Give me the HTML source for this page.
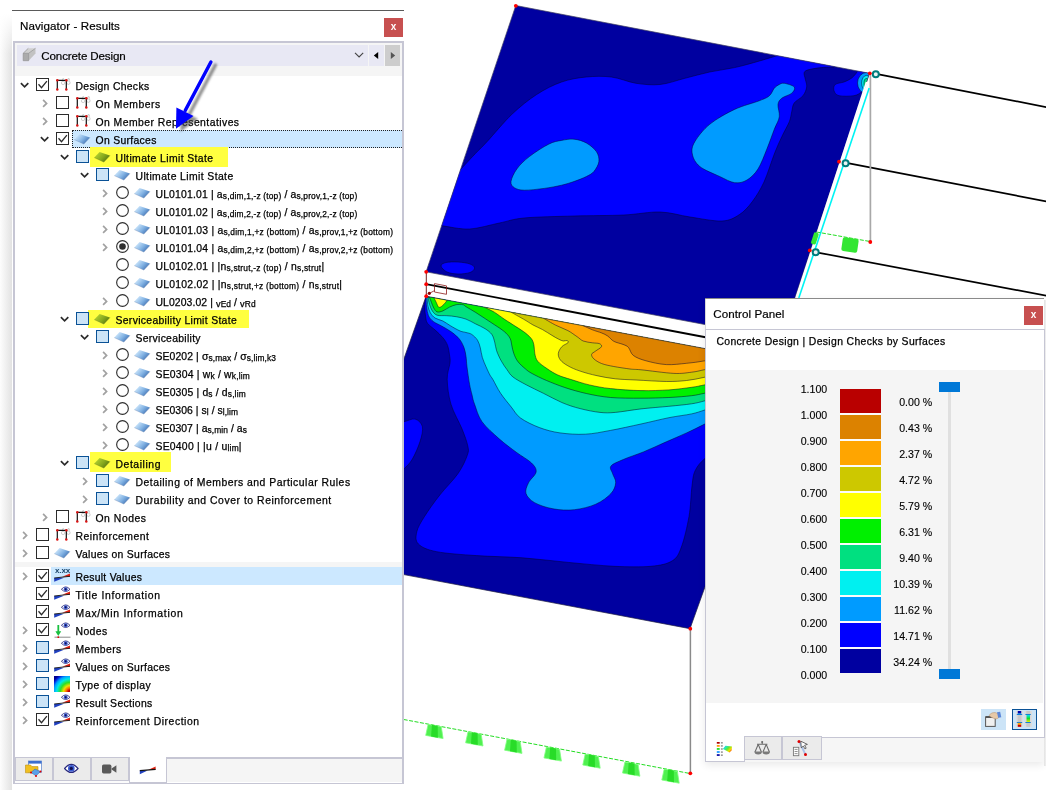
<!DOCTYPE html>
<html><head><meta charset="utf-8"><title>Navigator - Results</title><style>html,body{margin:0;padding:0}body{width:1046px;height:790px;position:relative;overflow:hidden;background:#fff;-webkit-font-smoothing:antialiased}
.tl{position:absolute;white-space:nowrap;font:10.4px/18px "Liberation Sans", Arial, sans-serif;color:#000;height:18px;-webkit-text-stroke:0.25px #000}
.tl .sb{font-size:8.4px;position:relative;top:1.2px}
.tl .sm{font-size:9.2px;position:relative;top:0.6px}
.xb{position:absolute;width:19px;height:19px;color:#fff;font:bold 10px/17.6px "Liberation Sans", Arial, sans-serif;text-align:center}
.xx{position:absolute;font:bold 8px/9px "Liberation Sans", Arial, sans-serif;color:#1c4468;letter-spacing:-0.1px}
.tt{position:absolute;white-space:nowrap;font:11.6px/16px "Liberation Sans", Arial, sans-serif;color:#000;-webkit-text-stroke:0.2px #000}

.lg{position:absolute;white-space:nowrap;font:10.6px/14px "Liberation Sans", Arial, sans-serif;color:#000;-webkit-text-stroke:0.12px #000}
</style></head><body>
<svg id="model" width="1046" height="790" viewBox="0 0 1046 790" style="position:absolute;left:0;top:0">
<defs>
<clipPath id="cu"><polygon points="515.8,5.5 869.5,73.3 781.3,339 426.1,271.8"/></clipPath>
<clipPath id="cl"><polygon points="426.1,296.2 720,351.4 720,545 690,628.7 380,570.1 380,426.4"/></clipPath>
</defs>
<polygon points="515.8,5.5 869.5,73.3 781.3,339 426.1,271.8" fill="#0000a0"/>
<g clip-path="url(#cu)" stroke="#000030" stroke-width="0.5">
<path d="M461.0,169.0 C463.2,166.7 469.7,159.6 474.0,155.0 C478.3,150.4 480.7,148.5 487.0,141.7 C493.3,134.9 503.6,122.2 511.9,114.3 C520.2,106.4 528.4,99.9 536.7,94.5 C545.0,89.1 553.3,84.9 561.6,82.0 C569.9,79.1 578.1,77.8 586.4,77.0 C594.7,76.2 603.0,76.0 611.3,77.0 C619.6,78.0 627.9,82.0 636.0,83.3 C644.1,84.5 651.9,85.3 660.0,84.5 C668.1,83.7 676.6,80.4 684.9,78.3 C693.2,76.2 701.4,73.8 709.7,72.0 C718.0,70.2 726.3,69.4 734.6,67.6 C742.9,65.8 752.0,63.1 759.4,61.0 C766.8,58.9 776.0,56.0 779.3,55.0 L790,50 L840,60 L834.0,67.0 C831.9,67.1 825.8,67.2 821.6,67.6 C817.5,68.0 812.0,68.8 809.1,69.6 C806.2,70.4 804.8,70.9 804.2,72.6 C803.6,74.2 805.0,77.1 805.4,79.5 C805.8,81.9 807.1,84.3 806.7,87.0 C806.3,89.7 805.1,93.0 803.0,95.7 C800.9,98.4 796.1,100.3 794.2,103.0 C792.3,105.7 792.5,108.8 791.7,111.9 C790.9,115.0 790.9,117.7 789.3,121.8 C787.6,125.9 784.3,131.3 781.8,136.7 C779.3,142.1 777.3,146.4 774.3,154.0 C771.3,161.6 767.7,174.0 764.0,182.0 C760.3,190.0 756.1,196.6 752.0,202.0 C747.9,207.4 744.4,211.4 739.4,214.6 C734.4,217.8 730.2,220.6 722.0,221.0 C713.8,221.4 700.3,218.5 690.0,217.0 C679.7,215.5 671.0,212.3 660.0,212.0 C649.0,211.7 638.0,214.3 623.7,215.0 C609.4,215.7 590.6,215.5 574.0,216.0 C557.4,216.5 536.4,216.8 524.0,218.0 C511.6,219.2 508.5,221.2 499.4,223.0 C490.3,224.8 479.1,228.5 469.6,229.0 C460.1,229.5 448.8,226.6 442.2,225.8 C435.6,225.0 432.0,224.3 430.0,224.0 L430,170Z" fill="#0000ff"/>
<path d="M511.0,181.5 C511.4,178.4 513.8,173.2 516.8,169.0 C519.8,164.8 523.9,160.8 529.3,156.6 C534.7,152.4 543.6,146.7 549.0,144.0 C554.4,141.3 557.4,141.2 561.6,140.4 C565.8,139.6 569.9,138.8 574.0,139.2 C578.1,139.6 582.7,140.9 586.4,143.0 C590.1,145.1 594.3,148.5 596.4,151.6 C598.5,154.7 599.3,158.3 598.9,161.6 C598.5,164.9 596.0,169.0 593.9,171.5 C591.8,174.0 589.7,174.8 586.4,176.5 C583.1,178.2 578.1,180.1 574.0,181.5 C569.9,182.9 566.6,184.0 561.6,185.2 C556.6,186.3 550.4,187.6 544.2,188.4 C538.0,189.2 529.3,190.3 524.3,190.2 C519.3,190.1 516.5,189.1 514.3,187.7 C512.1,186.2 510.6,184.6 511.0,181.5Z" fill="#009bff"/>
<path d="M784.3,83.3 C786.8,83.7 793.0,85.3 794.2,87.0 C795.4,88.7 793.8,91.3 791.7,93.2 C789.6,95.1 784.1,96.3 781.8,98.2 C779.5,100.1 778.4,101.3 778.0,104.4 C777.6,107.5 779.9,112.6 779.3,116.8 C778.7,121.0 776.4,123.9 774.3,129.3 C772.2,134.7 769.6,142.4 766.9,149.0 C764.2,155.6 761.3,163.8 758.0,169.0 C754.7,174.2 750.9,177.7 747.0,180.0 C743.1,182.3 739.1,183.3 734.6,182.7 C730.1,182.1 725.5,179.2 719.7,176.5 C713.9,173.8 704.4,170.2 699.8,166.5 C695.2,162.8 693.1,158.1 692.3,154.0 C691.5,149.9 691.9,146.6 694.8,141.7 C697.7,136.8 703.1,129.7 709.7,124.3 C716.3,118.9 726.3,113.3 734.6,109.4 C742.9,105.5 753.6,103.0 759.4,100.7 C765.2,98.4 766.9,97.8 769.4,95.7 C771.9,93.6 772.6,90.1 774.3,88.2 C775.9,86.3 777.6,85.3 779.3,84.5 C781.0,83.7 781.8,82.9 784.3,83.3Z" fill="#009bff"/>
<path d="M441.0,266.0 C440.8,264.4 443.2,263.2 446.0,262.5 C448.8,261.8 454.0,261.8 458.0,262.0 C462.0,262.2 467.2,263.0 470.0,264.0 C472.8,265.0 474.6,266.6 474.6,268.0 C474.6,269.4 472.8,271.5 470.0,272.5 C467.2,273.5 461.8,274.1 458.0,274.0 C454.2,273.9 449.8,273.3 447.0,272.0 C444.2,270.7 441.2,267.6 441.0,266.0Z" fill="#0000ff"/>
<path d="M834.0,90.7 C833.4,88.8 833.5,86.0 835.2,84.5 C836.9,83.0 841.3,83.0 844.0,82.0 C846.7,81.0 849.4,79.7 851.4,78.3 C853.4,76.9 854.6,75.0 856.0,73.5 C857.4,72.0 857.5,69.2 860.0,69.0 C862.5,68.8 870.0,69.2 871.0,72.0 C872.0,74.8 867.6,82.7 866.0,86.0 C864.4,89.3 863.3,90.4 861.3,92.0 C859.3,93.6 857.6,95.1 853.9,95.7 C850.2,96.3 842.3,96.5 839.0,95.7 C835.7,94.9 834.6,92.6 834.0,90.7Z" fill="#0000ff"/>
<ellipse cx="866.5" cy="83" rx="9" ry="10.5" fill="#009bff"/>
<ellipse cx="866.5" cy="83" rx="4.9" ry="7.6" fill="#00f0f0"/>
<ellipse cx="866.5" cy="83.5" rx="2.6" ry="5" fill="#00e080"/>
</g>
<polygon points="426.1,296.2 720,351.4 720,545 690,628.7 380,570.1 380,426.4" fill="#0000a0"/>
<g clip-path="url(#cl)" stroke="#000030" stroke-width="0.5">
<path d="M426.1,297.0 C426.0,297.2 425.4,296.8 425.2,298.5 C425.0,300.2 424.6,304.1 424.7,307.1 C424.8,310.1 425.1,314.0 425.6,316.7 C426.1,319.4 426.0,321.2 427.6,323.4 C429.2,325.6 432.6,327.7 435.2,330.1 C437.8,332.5 440.8,335.1 442.9,337.7 C445.0,340.2 446.5,342.5 447.6,345.4 C448.7,348.3 449.1,352.0 449.5,354.9 C449.9,357.8 450.4,358.9 450.0,363.0 C449.6,367.1 447.0,372.5 447.2,379.4 C447.4,386.3 448.5,396.0 451.0,404.3 C453.5,412.6 459.3,422.2 462.1,429.1 C464.9,436.1 466.9,441.6 467.8,446.0 C468.7,450.4 468.9,450.7 467.3,455.3 C465.7,459.9 462.6,467.0 458.0,473.6 C453.4,480.2 445.4,487.9 439.8,495.0 C434.2,502.1 428.3,510.4 424.5,516.5 C420.7,522.6 417.8,527.2 416.8,531.8 C415.8,536.4 415.1,540.7 418.4,544.0 C421.7,547.3 427.0,549.8 436.7,551.7 C446.4,553.6 462.2,554.6 476.5,555.6 C490.8,556.6 507.1,556.7 522.4,557.8 C537.7,558.9 552.9,561.0 568.2,562.4 C583.5,563.8 600.2,565.6 614.0,566.3 C627.8,566.9 641.1,567.2 650.8,566.3 C660.5,565.4 667.2,564.0 672.3,560.8 C677.4,557.6 678.6,554.4 681.4,547.0 C684.2,539.6 687.2,526.7 689.0,516.5 C690.8,506.3 691.0,493.5 692.0,485.9 C693.0,478.2 693.0,475.2 695.2,470.6 C697.4,466.0 700.0,462.7 705.0,458.4 C710.0,454.1 721.7,447.2 725.0,445.0 L725,300Z" fill="#0000ff"/>
<path d="M395.0,421.0 C396.4,412.3 400.4,422.0 403.7,421.7 C407.0,421.4 411.9,418.2 415.0,419.0 C418.1,419.8 421.6,422.9 422.4,426.7 C423.2,430.5 421.7,436.2 420.0,441.6 C418.3,447.0 415.1,454.4 412.4,459.0 C409.7,463.6 406.6,466.5 403.7,469.0 C400.8,471.5 396.4,482.0 395.0,474.0 C393.6,466.0 393.6,429.7 395.0,421.0Z" fill="#0000ff"/>
<path d="M426.1,297.0 C426.1,297.3 426.0,297.3 426.1,299.0 C426.2,300.7 426.2,304.3 426.6,307.1 C427.0,309.9 427.4,313.3 428.5,315.7 C429.6,318.1 431.1,319.8 433.3,321.5 C435.5,323.2 438.9,324.4 441.9,326.2 C444.9,327.9 448.6,329.9 451.5,332.0 C454.4,334.1 457.0,336.1 459.1,338.7 C461.2,341.2 462.8,344.4 463.9,347.3 C465.0,350.2 465.5,353.1 466.0,356.4 C466.5,359.7 466.4,362.2 467.0,366.9 C467.6,371.6 468.8,379.8 469.6,384.4 C470.4,389.0 471.2,391.5 472.0,394.8 C472.8,398.1 472.9,399.8 474.6,404.3 C476.3,408.8 477.9,415.9 482.0,421.7 C486.1,427.5 493.7,433.9 499.4,439.0 C505.1,444.1 510.9,448.2 516.2,452.2 C521.6,456.2 528.2,459.7 531.5,463.0 C534.8,466.3 536.6,468.7 536.1,472.0 C535.6,475.3 530.2,479.2 528.5,482.8 C526.8,486.4 525.0,490.2 526.0,493.5 C527.0,496.8 530.1,500.1 534.6,502.7 C539.1,505.2 546.4,507.6 553.0,508.8 C559.6,510.0 567.3,510.5 574.4,509.7 C581.5,508.9 589.7,506.9 595.8,504.2 C601.9,501.5 607.7,497.1 611.0,493.5 C614.3,489.9 615.4,486.1 615.7,482.8 C616.0,479.5 613.4,476.4 612.6,473.6 C611.8,470.8 609.2,468.4 611.0,466.0 C612.8,463.6 617.9,461.9 623.3,459.5 C628.7,457.1 636.3,454.8 643.5,451.9 C650.7,448.9 659.1,445.0 666.3,441.8 C673.5,438.6 680.2,435.9 686.6,432.9 C693.0,429.9 698.4,427.3 704.8,424.0 C711.2,420.7 721.6,414.8 725.0,413.0 L725,300Z" fill="#009bff"/>
<path d="M426.3,297.0 C426.4,297.2 426.8,297.0 427.1,298.5 C427.4,300.0 427.4,303.8 428.0,306.2 C428.6,308.6 429.2,310.9 430.4,312.9 C431.6,314.9 433.1,316.8 435.2,318.1 C437.3,319.5 440.3,319.7 442.9,321.0 C445.4,322.3 447.6,324.1 450.5,325.8 C453.4,327.5 457.5,329.9 460.1,331.0 C462.7,332.1 464.1,331.9 466.0,332.5 C467.9,333.1 469.8,333.1 471.7,334.4 C473.6,335.7 476.1,338.0 477.5,340.2 C478.9,342.4 479.5,344.9 480.3,347.8 C481.1,350.7 481.3,354.2 482.3,357.4 C483.3,360.6 484.8,364.0 486.1,366.9 C487.4,369.8 488.8,372.9 489.9,375.0 C491.0,377.1 491.1,376.4 492.9,379.5 C494.7,382.6 497.5,388.7 500.6,393.3 C503.7,397.9 508.0,403.0 511.3,407.1 C514.6,411.2 515.9,414.6 520.5,418.0 C525.1,421.4 532.6,425.0 539.2,427.5 C545.8,430.0 552.3,431.8 560.0,432.9 C567.7,434.0 576.9,434.6 585.3,434.2 C593.7,433.8 601.3,432.1 610.6,430.4 C619.9,428.7 631.3,426.1 641.0,424.0 C650.7,421.9 660.5,419.4 668.9,417.7 C677.3,416.0 685.6,415.2 691.6,413.9 C697.6,412.6 699.2,411.8 704.8,410.0 C710.4,408.2 721.6,404.2 725.0,403.0 L725,300Z" fill="#00f0f0"/>
<path d="M426.6,297.0 C426.8,297.2 427.5,296.8 428.0,298.0 C428.5,299.2 428.8,302.2 429.5,304.3 C430.2,306.4 431.0,309.1 432.3,310.9 C433.6,312.7 434.7,314.4 437.1,315.2 C439.5,316.0 443.5,315.4 446.7,315.7 C449.9,315.9 453.0,316.1 456.2,316.7 C459.4,317.3 462.8,317.9 466.0,319.1 C469.2,320.3 472.4,322.3 475.6,323.9 C478.8,325.5 482.4,326.9 485.1,328.7 C487.8,330.4 490.2,332.2 491.8,334.4 C493.4,336.6 493.9,339.4 494.7,342.1 C495.5,344.8 495.5,347.5 496.6,350.7 C497.7,353.9 499.6,358.0 501.4,361.2 C503.1,364.4 505.2,367.2 507.1,369.8 C509.0,372.4 509.8,374.5 513.0,377.0 C516.2,379.5 521.5,382.3 526.6,385.0 C531.7,387.7 537.5,390.4 543.4,393.3 C549.3,396.2 555.7,399.9 561.8,402.5 C567.9,405.1 573.7,407.0 580.1,408.6 C586.5,410.2 594.1,411.8 600.0,412.4 C605.9,413.0 608.5,413.0 615.3,412.4 C622.1,411.8 632.1,409.9 641.0,408.9 C649.9,407.9 660.5,407.1 668.9,406.3 C677.3,405.5 685.6,404.7 691.6,403.8 C697.6,402.9 699.2,402.3 704.8,400.8 C710.4,399.3 721.6,396.0 725.0,395.0 L725,300Z" fill="#00e080"/>
<path d="M428.0,296.8 C428.2,296.9 428.9,296.7 429.5,297.6 C430.1,298.5 430.7,300.6 431.4,302.3 C432.1,304.1 432.9,306.5 433.8,308.1 C434.8,309.7 435.6,311.4 437.1,311.9 C438.6,312.4 440.8,311.7 442.9,310.9 C445.0,310.1 447.3,308.1 449.5,307.1 C451.7,306.1 454.0,305.1 456.2,304.7 C458.4,304.3 461.3,304.4 462.9,304.7 C464.5,305.0 463.9,305.4 466.0,306.7 C468.1,308.0 472.4,310.4 475.6,312.4 C478.8,314.4 481.9,316.5 485.1,318.6 C488.3,320.7 491.5,322.8 494.7,324.9 C497.9,327.0 501.6,329.3 504.2,331.5 C506.8,333.7 508.7,335.8 510.0,338.2 C511.3,340.6 511.3,343.3 511.9,345.9 C512.5,348.4 512.8,350.9 513.8,353.5 C514.8,356.1 515.7,358.6 517.6,361.2 C519.5,363.8 522.9,366.8 525.3,368.8 C527.7,370.9 528.5,371.6 532.0,373.5 C535.5,375.4 541.0,378.2 546.5,380.5 C552.0,382.8 558.2,385.3 564.8,387.5 C571.4,389.7 578.7,391.8 586.3,393.5 C593.9,395.2 601.5,396.7 610.6,397.5 C619.7,398.3 631.3,398.2 641.0,398.2 C650.7,398.2 660.5,397.9 668.9,397.5 C677.3,397.1 685.6,396.4 691.6,395.7 C697.6,395.0 699.2,394.3 704.8,393.2 C710.4,392.1 721.6,389.7 725.0,389.0 L725,300Z" fill="#00f000"/>
<path d="M433.8,297.6 C434.2,298.4 435.4,300.7 436.2,302.3 C437.0,303.9 437.7,306.5 438.6,307.1 C439.6,307.8 440.7,307.0 441.9,306.2 C443.1,305.4 444.8,303.3 445.7,302.3 C446.6,301.3 446.9,300.4 447.2,300.0Z" fill="#ffff00"/>
<path d="M484.2,307.1 C485.9,308.0 491.4,310.4 494.7,312.4 C498.0,314.4 501.0,317.0 504.2,319.1 C507.4,321.2 510.6,323.2 513.8,325.3 C517.0,327.4 520.5,329.4 523.4,331.5 C526.3,333.6 529.2,336.0 531.0,338.2 C532.8,340.4 533.3,342.3 533.9,344.9 C534.5,347.4 534.2,350.8 534.8,353.5 C535.4,356.2 535.6,358.6 537.7,361.2 C539.8,363.8 543.9,366.5 547.3,368.8 C550.6,371.1 553.8,373.2 557.8,375.0 C561.8,376.8 565.8,377.9 571.0,379.5 C576.2,381.1 582.7,383.4 589.3,384.9 C595.9,386.4 602.0,387.7 610.6,388.6 C619.2,389.6 631.3,390.4 641.0,390.6 C650.7,390.8 660.5,390.4 668.9,389.9 C677.3,389.3 685.6,388.1 691.6,387.3 C697.6,386.5 699.2,386.0 704.8,384.8 C710.4,383.6 721.6,380.8 725.0,380.0 L725,300 L484,300Z" fill="#ffff00"/>
<path d="M510.9,312.1 C513.0,313.3 519.7,317.0 523.4,319.1 C527.1,321.2 529.7,323.1 532.9,324.9 C536.1,326.6 539.3,327.9 542.5,329.6 C545.7,331.4 549.3,333.8 552.0,335.4 C554.7,337.0 556.8,338.3 558.7,339.2 C560.6,340.1 561.9,340.8 563.3,341.0 C564.7,341.2 566.3,340.2 567.1,340.5 C567.9,340.8 568.8,341.8 567.9,342.8 C567.0,343.8 563.4,344.9 561.8,346.7 C560.2,348.5 558.5,351.3 558.3,353.5 C558.1,355.7 558.8,357.9 560.4,360.0 C562.0,362.1 564.6,363.9 567.9,365.8 C571.2,367.7 575.2,369.5 580.1,371.1 C585.0,372.8 591.1,374.4 597.0,375.7 C602.9,377.0 608.8,378.1 615.3,378.8 C621.8,379.5 627.5,379.6 636.0,380.0 C644.5,380.4 657.9,381.4 666.3,381.5 C674.7,381.6 680.2,381.2 686.6,380.5 C693.0,379.8 698.4,378.6 704.8,377.2 C711.2,375.8 721.6,372.9 725.0,372.0 L725,300 L511,300Z" fill="#cdc800"/>
<path d="M543.4,318.2 C545.5,319.4 551.6,323.1 555.7,325.2 C559.8,327.3 564.3,328.7 567.9,330.6 C571.5,332.5 574.5,335.0 577.1,336.7 C579.7,338.4 580.7,340.0 583.2,341.0 C585.8,342.0 589.7,342.4 592.4,342.8 C595.1,343.2 597.8,343.0 599.3,343.6 C600.8,344.2 602.1,345.4 601.5,346.7 C600.9,348.0 597.0,349.9 595.4,351.2 C593.8,352.5 591.9,353.0 591.6,354.3 C591.4,355.6 592.2,357.4 593.9,358.9 C595.5,360.4 598.2,362.2 601.5,363.5 C604.8,364.8 609.0,365.6 613.8,366.5 C618.5,367.4 625.5,368.4 630.0,369.0 C634.5,369.6 633.7,369.1 641.0,369.8 C648.3,370.5 665.5,373.0 673.9,373.4 C682.3,373.8 686.5,372.8 691.6,372.2 C696.8,371.6 699.2,370.8 704.8,369.6 C710.4,368.4 721.6,365.8 725.0,365.0 L725,300 L543,300Z" fill="#ffa500"/>
<path d="M583.2,325.7 C584.7,326.4 589.4,328.6 592.4,329.8 C595.4,331.0 599.0,331.9 601.5,332.9 C604.0,333.9 605.7,334.6 607.7,336.0 C609.8,337.4 611.2,339.9 613.8,341.3 C616.3,342.7 620.5,343.4 623.0,344.4 C625.5,345.4 626.8,345.6 628.5,347.5 C630.2,349.4 630.5,353.3 633.4,355.5 C636.3,357.7 640.5,359.3 646.0,360.8 C651.5,362.3 659.5,364.2 666.3,364.6 C673.1,365.0 680.2,363.9 686.6,363.3 C693.0,362.7 698.4,362.0 704.8,360.8 C711.2,359.6 721.6,356.8 725.0,356.0 L725,300 L583,300Z" fill="#dc8200"/>
</g>
<polygon points="515.8,5.5 869.5,73.3 781.3,339 426.1,271.8" fill="none" stroke="#404060" stroke-width="0.7"/>
<polygon points="426.1,296.2 720,351.4 720,545 690,628.7 380,570.1 380,426.4" fill="none" stroke="#202040" stroke-width="0.7"/>
<line x1="426.1" y1="284.2" x2="720" y2="340" stroke="#000" stroke-width="1.8"/>
<line x1="426.3" y1="271.8" x2="426.3" y2="296.2" stroke="#702020" stroke-width="1"/>
<path d="M434.5,283.6 L446.5,285.9 L446.5,294.3 L434.5,292 Z M429.5,293.3 L434.5,290.6" fill="none" stroke="#8b1a1a" stroke-width="0.8"/>
<circle cx="429.3" cy="293.3" r="1.6" fill="#8b0000"/>
<g stroke="#000" stroke-width="1.7">
<line x1="878.7" y1="74.4" x2="1047" y2="107.3"/>
<line x1="849" y1="163.4" x2="1047" y2="201.5"/>
<line x1="819" y1="252.8" x2="1047" y2="295.8"/>
<line x1="1043" y1="389.6" x2="1047" y2="390.4"/>
</g>
<line x1="870.4" y1="73" x2="870.4" y2="242" stroke="#a8a8a8" stroke-width="1.7"/>
<line x1="690.4" y1="628.7" x2="690.4" y2="773" stroke="#8a8a8a" stroke-width="1.5"/>
<line x1="866.6" y1="82" x2="796.2" y2="298" stroke="#fff" stroke-width="1.8"/>
<line x1="869.2" y1="88" x2="798.8" y2="298" stroke="#00f4f4" stroke-width="1.6"/>
<line x1="816.5" y1="232" x2="870" y2="241.5" stroke="#22dd22" stroke-width="1" stroke-dasharray="4 1.5"/>
<g fill="#33e633" filter="url(#bl)">
<rect x="842" y="238" width="16" height="14" rx="2" transform="rotate(8 850 245)"/>
<rect x="812.5" y="232.5" width="5" height="12" rx="1.5" transform="rotate(18 815 238)"/>
</g>
<line x1="403.7" y1="719.5" x2="690" y2="773.5" stroke="#22dd22" stroke-width="1" stroke-dasharray="4 1.5"/>
<g transform="translate(434.5,731.8)"><polygon points="-6.4,-7.4 6.8,-5 8.6,6.8 -8.8,3.6" fill="#50f050" stroke="#80ff80" stroke-width="0.8" stroke-linejoin="round"/><polygon points="-2.6,-7 3.2,-5.900 3.4,5.900 -3.400,4.600" fill="#28dc28"/></g>
<g transform="translate(474.4,739.2)"><polygon points="-6.4,-7.4 6.8,-5 8.6,6.8 -8.8,3.6" fill="#50f050" stroke="#80ff80" stroke-width="0.8" stroke-linejoin="round"/><polygon points="-2.6,-7 3.2,-5.900 3.4,5.900 -3.400,4.600" fill="#28dc28"/></g>
<g transform="translate(513.4,746.6)"><polygon points="-6.4,-7.4 6.8,-5 8.6,6.8 -8.8,3.6" fill="#50f050" stroke="#80ff80" stroke-width="0.8" stroke-linejoin="round"/><polygon points="-2.6,-7 3.2,-5.900 3.4,5.900 -3.400,4.600" fill="#28dc28"/></g>
<g transform="translate(552.8,754.3)"><polygon points="-6.4,-7.4 6.8,-5 8.6,6.8 -8.8,3.6" fill="#50f050" stroke="#80ff80" stroke-width="0.8" stroke-linejoin="round"/><polygon points="-2.6,-7 3.2,-5.900 3.4,5.900 -3.400,4.600" fill="#28dc28"/></g>
<g transform="translate(591.6,761.4)"><polygon points="-6.4,-7.4 6.8,-5 8.6,6.8 -8.8,3.6" fill="#50f050" stroke="#80ff80" stroke-width="0.8" stroke-linejoin="round"/><polygon points="-2.6,-7 3.2,-5.900 3.4,5.900 -3.400,4.600" fill="#28dc28"/></g>
<g transform="translate(631.3,769.4)"><polygon points="-6.4,-7.4 6.8,-5 8.6,6.8 -8.8,3.6" fill="#50f050" stroke="#80ff80" stroke-width="0.8" stroke-linejoin="round"/><polygon points="-2.6,-7 3.2,-5.900 3.4,5.900 -3.400,4.600" fill="#28dc28"/></g>
<g transform="translate(670.6,776.4)"><polygon points="-6.4,-7.4 6.8,-5 8.6,6.8 -8.8,3.6" fill="#50f050" stroke="#80ff80" stroke-width="0.8" stroke-linejoin="round"/><polygon points="-2.6,-7 3.2,-5.900 3.4,5.900 -3.400,4.600" fill="#28dc28"/></g>
<g fill="#ff0000">
<circle cx="515.8" cy="5.8" r="1.9"/>
<circle cx="869.8" cy="73.3" r="1.9"/>
<circle cx="839" cy="161.7" r="1.9"/>
<circle cx="809.8" cy="250.4" r="1.9"/>
<circle cx="870.3" cy="242" r="1.9"/>
<circle cx="426.2" cy="271.8" r="1.9"/>
<circle cx="426.2" cy="284.2" r="1.9"/>
<circle cx="426.2" cy="296.2" r="1.9"/>
<circle cx="690.3" cy="628.7" r="1.9"/>
<circle cx="690.3" cy="773.3" r="1.9"/>
</g>
<circle cx="875.8" cy="74.2" r="3" fill="#e8f4f4" stroke="#007c7c" stroke-width="2"/>
<circle cx="845.6" cy="163.2" r="3" fill="#e8f4f4" stroke="#007c7c" stroke-width="2"/>
<circle cx="815.7" cy="252.2" r="3" fill="#e8f4f4" stroke="#007c7c" stroke-width="2"/>
</svg>

<svg width="0" height="0" style="position:absolute">
<defs>
<linearGradient id="gsb" x1="0" y1="0.2" x2="1" y2="0.8"><stop offset="0.1" stop-color="#cde6fb"/><stop offset="0.55" stop-color="#7fb0e2"/><stop offset="0.95" stop-color="#3a6bae"/></linearGradient>
<linearGradient id="gsg" x1="0" y1="0.2" x2="1" y2="0.8"><stop offset="0" stop-color="#bcd832"/><stop offset="0.55" stop-color="#86a81e"/><stop offset="1" stop-color="#4f6c0c"/></linearGradient>
<radialGradient id="grb" cx="1" cy="1" r="1.25" gradientUnits="objectBoundingBox">
<stop offset="0.08" stop-color="#c00000"/><stop offset="0.2" stop-color="#ff7000"/><stop offset="0.32" stop-color="#f0e000"/><stop offset="0.48" stop-color="#30e020"/><stop offset="0.66" stop-color="#00e8e8"/><stop offset="0.8" stop-color="#00a0ff"/><stop offset="0.92" stop-color="#0020e0"/><stop offset="1" stop-color="#000090"/></radialGradient>
<symbol id="i-surf" viewBox="0 0 18 14"><polygon points="0.3,7.6 5.6,1.9 15.9,5.6 9.8,12.1" fill="url(#gsb)"/><path d="M15.9,5.6 L9.8,12.1 L0.3,7.6" fill="none" stroke="#5878a8" stroke-width="0.5" opacity="0.7"/></symbol>
<symbol id="i-surfg" viewBox="0 0 18 14"><polygon points="0.3,7.6 5.6,1.9 15.9,5.6 9.8,12.1" fill="url(#gsg)"/><path d="M15.9,5.6 L9.8,12.1 L0.3,7.6" fill="none" stroke="#506818" stroke-width="0.5" opacity="0.7"/></symbol>
<symbol id="i-frame" viewBox="0 0 18 14"><g fill="none" stroke="#c2c2c2" stroke-width="0.8"><circle cx="9.1" cy="4.9" r="1.7"/><circle cx="14.4" cy="4.7" r="1.7"/><path d="M8.300,2.600 L8.800,0.700 L10,0.700 M13.600,2.400 L14,0.600 L15.200,0.700 L15.600,2.600"/></g><path d="M3.300,11.500 V2.300 H12.300 V11.500" fill="none" stroke="#111" stroke-width="1.2"/><g fill="#dc1414"><circle cx="3.300" cy="2.300" r="1.250"/><circle cx="12.300" cy="2.300" r="1.250"/><circle cx="3.300" cy="11.500" r="1.250"/><circle cx="12.300" cy="11.500" r="1.250"/></g></symbol>
<symbol id="i-wedge" viewBox="0 0 18 18"><polygon points="0.2,11 0.2,14.7 10,10.8" fill="#2040c0"/><polygon points="8.2,9.8 16,6.6 16,9.5" fill="#e02010"/><line x1="0.2" y1="11" x2="16" y2="9.300" stroke="#111" stroke-width="0.9"/></symbol>
<symbol id="i-eye" viewBox="0 0 10 7"><path d="M0.4,3.5 Q5,-1.6 9.6,3.5 Q5,8.2 0.4,3.5Z" fill="#fff" stroke="#28287c" stroke-width="0.9"/><circle cx="5" cy="3.4" r="2.1" fill="#3a5ad0"/><circle cx="5" cy="3.4" r="1" fill="#101050"/></symbol>
</defs>
</svg>

<div style="position:absolute;left:0;top:14px;width:12px;height:776px;background:linear-gradient(to right,#fdfdfd,#e2e2e2)"></div>
<div style="position:absolute;left:0;top:14px;width:12px;height:40px;background:linear-gradient(to bottom,#fff,rgba(255,255,255,0))"></div>
<div style="position:absolute;left:12px;top:10px;width:392px;height:780px;background:#fff"></div>
<div style="position:absolute;left:12px;top:10px;width:392px;height:1px;background:#5a5a5a"></div>
<span id="t-nav" class="tt" style="left:20px;top:17.7px;letter-spacing:0.074px">Navigator - Results</span>
<div style="position:absolute;left:384px;top:18px;width:19px;height:19px;background:#c75050"></div>
<div class="xb" style="left:384px;top:18px">x</div>
<div style="position:absolute;left:13px;top:41px;width:387px;height:739.7px;border:2px solid #c6c6d4;border-bottom-width:1.3px;background:#fff"></div>
<div style="position:absolute;left:15px;top:43px;width:387px;height:33px;background:#f5f5f5"></div>
<div style="position:absolute;left:17px;top:45px;width:351px;height:21px;background:#e8e8f4"></div>
<div style="position:absolute;left:369px;top:45px;width:15px;height:21px;background:#e8e8f4"></div>
<div style="position:absolute;left:385px;top:45px;width:15px;height:21px;background:#cdcdcd"></div>
<svg style="position:absolute;left:354px;top:50px" width="11" height="10"><path d="M1,2.8 L5.1,7 L9.2,2.8" fill="none" stroke="#444" stroke-width="1.1"/></svg>
<svg style="position:absolute;left:372px;top:50px" width="26" height="11"><polygon points="6.2,2 6.2,9 1.8,5.5" fill="#000"/><polygon points="18.8,2 18.8,9 23.2,5.5" fill="#555"/></svg>
<svg style="position:absolute;left:20px;top:46px" width="17" height="16"><polygon points="3.2,7.3 8.3,2.3 15.5,2.3 8.6,7.3" fill="#d0d0d0"/><polygon points="8.6,7.3 15.5,2.3 15.5,7.5 8.6,14.7" fill="#c2c2c2"/><polygon points="3.2,7.3 8.6,7.3 8.6,14.7 3.2,14.7" fill="#ababab"/><path d="M3.2,7.3 H8.6 V14.7 H3.2Z M8.6,7.3 L15.5,2.3 M3.2,7.3 L8.3,2.3" fill="none" stroke="#909090" stroke-width="0.7"/></svg>
<span id="t-cd" class="tt" style="left:41.3px;top:48.1px;letter-spacing:-0.144px">Concrete Design</span>
<svg style="position:absolute;left:20px;top:76px" width="10" height="18"><path d="M0.9,7.2 L4.6,10.9 L8.3,7.2" fill="none" stroke="#2b2b2b" stroke-width="1.7"/></svg>
<svg style="position:absolute;left:36px;top:78px" width="13" height="13"><rect x="0.5" y="0.5" width="12" height="12" fill="#fff" stroke="#2b2b2b"/><path d="M2.5,6.3 L5.5,9.7 L10.9,3.1" fill="none" stroke="#2b2b2b" stroke-width="1.3"/></svg>
<svg style="position:absolute;left:54px;top:78px" width="18" height="14"><use href="#i-frame"/></svg>
<span id="a0" class="tl" style="left:75.5px;top:78px;letter-spacing:0.308px">Design Checks</span>
<svg style="position:absolute;left:40.5px;top:94px" width="10" height="18"><path d="M2.1,5.9 L5.6,9.4 L2.1,12.9" fill="none" stroke="#a2a2a2" stroke-width="1.7"/></svg>
<div style="position:absolute;left:56px;top:96px;width:11px;height:11px;border:1px solid #2b2b2b;background:#fff"></div>
<svg style="position:absolute;left:74px;top:96px" width="18" height="14"><use href="#i-frame"/></svg>
<span id="a1" class="tl" style="left:95.5px;top:96px;letter-spacing:0.514px">On Members</span>
<svg style="position:absolute;left:40.5px;top:112px" width="10" height="18"><path d="M2.1,5.9 L5.6,9.4 L2.1,12.9" fill="none" stroke="#a2a2a2" stroke-width="1.7"/></svg>
<div style="position:absolute;left:56px;top:114px;width:11px;height:11px;border:1px solid #2b2b2b;background:#fff"></div>
<svg style="position:absolute;left:74px;top:114px" width="18" height="14"><use href="#i-frame"/></svg>
<span id="a2" class="tl" style="left:95.5px;top:114px;letter-spacing:0.447px">On Member Representatives</span>
<div style="position:absolute;left:72px;top:130px;width:329px;height:16px;background:#cce8ff;border:1px dotted #222;border-right:none"></div>
<svg style="position:absolute;left:40px;top:130px" width="10" height="18"><path d="M0.9,7.2 L4.6,10.9 L8.3,7.2" fill="none" stroke="#2b2b2b" stroke-width="1.7"/></svg>
<svg style="position:absolute;left:56px;top:132px" width="13" height="13"><rect x="0.5" y="0.5" width="12" height="12" fill="#fff" stroke="#2b2b2b"/><path d="M2.5,6.3 L5.5,9.7 L10.9,3.1" fill="none" stroke="#2b2b2b" stroke-width="1.3"/></svg>
<svg style="position:absolute;left:74px;top:132px" width="18" height="14"><use href="#i-surf"/></svg>
<span id="a3" class="tl" style="left:95.5px;top:132px;letter-spacing:0.312px">On Surfaces</span>
<div style="position:absolute;left:90px;top:146.5px;width:137.6px;height:20.2px;background:#ffff40"></div>
<svg style="position:absolute;left:60px;top:148px" width="10" height="18"><path d="M0.9,7.2 L4.6,10.9 L8.3,7.2" fill="none" stroke="#2b2b2b" stroke-width="1.7"/></svg>
<div style="position:absolute;left:76px;top:150px;width:10.6px;height:10.6px;border:1.2px solid #0a5296;background:#cce4f7"></div>
<svg style="position:absolute;left:94px;top:150px" width="18" height="14"><use href="#i-surfg"/></svg>
<span id="a4" class="tl" style="left:115.5px;top:150px;letter-spacing:0.395px">Ultimate Limit State</span>
<svg style="position:absolute;left:80px;top:166px" width="10" height="18"><path d="M0.9,7.2 L4.6,10.9 L8.3,7.2" fill="none" stroke="#2b2b2b" stroke-width="1.7"/></svg>
<div style="position:absolute;left:96px;top:168px;width:10.6px;height:10.6px;border:1.2px solid #0a5296;background:#cce4f7"></div>
<svg style="position:absolute;left:114px;top:168px" width="18" height="14"><use href="#i-surf"/></svg>
<span id="a5" class="tl" style="left:135.5px;top:168px;letter-spacing:0.400px">Ultimate Limit State</span>
<svg style="position:absolute;left:100.5px;top:184px" width="10" height="18"><path d="M2.1,5.9 L5.6,9.4 L2.1,12.9" fill="none" stroke="#a2a2a2" stroke-width="1.7"/></svg>
<svg style="position:absolute;left:116px;top:186px" width="13" height="13"><circle cx="6.5" cy="6.5" r="5.85" fill="#fff" stroke="#2f2f2f" stroke-width="1.15"/></svg>
<svg style="position:absolute;left:134px;top:186px" width="18" height="14"><use href="#i-surf"/></svg>
<span id="a6" class="tl" style="left:155.5px;top:186px;letter-spacing:0.169px">UL0101.01 | a<span class="sb">s,dim,1,-z (top)</span> / a<span class="sb">s,prov,1,-z (top)</span></span>
<svg style="position:absolute;left:100.5px;top:202px" width="10" height="18"><path d="M2.1,5.9 L5.6,9.4 L2.1,12.9" fill="none" stroke="#a2a2a2" stroke-width="1.7"/></svg>
<svg style="position:absolute;left:116px;top:204px" width="13" height="13"><circle cx="6.5" cy="6.5" r="5.85" fill="#fff" stroke="#2f2f2f" stroke-width="1.15"/></svg>
<svg style="position:absolute;left:134px;top:204px" width="18" height="14"><use href="#i-surf"/></svg>
<span id="a7" class="tl" style="left:155.5px;top:204px;letter-spacing:0.169px">UL0101.02 | a<span class="sb">s,dim,2,-z (top)</span> / a<span class="sb">s,prov,2,-z (top)</span></span>
<svg style="position:absolute;left:100.5px;top:220px" width="10" height="18"><path d="M2.1,5.9 L5.6,9.4 L2.1,12.9" fill="none" stroke="#a2a2a2" stroke-width="1.7"/></svg>
<svg style="position:absolute;left:116px;top:222px" width="13" height="13"><circle cx="6.5" cy="6.5" r="5.85" fill="#fff" stroke="#2f2f2f" stroke-width="1.15"/></svg>
<svg style="position:absolute;left:134px;top:222px" width="18" height="14"><use href="#i-surf"/></svg>
<span id="a8" class="tl" style="left:155.5px;top:222px;letter-spacing:0.217px">UL0101.03 | a<span class="sb">s,dim,1,+z (bottom)</span> / a<span class="sb">s,prov,1,+z (bottom)</span></span>
<svg style="position:absolute;left:100.5px;top:238px" width="10" height="18"><path d="M2.1,5.9 L5.6,9.4 L2.1,12.9" fill="none" stroke="#a2a2a2" stroke-width="1.7"/></svg>
<svg style="position:absolute;left:116px;top:240px" width="13" height="13"><circle cx="6.5" cy="6.5" r="5.85" fill="#fff" stroke="#2f2f2f" stroke-width="1.15"/><circle cx="6.5" cy="6.5" r="3.3" fill="#2f2f2f"/></svg>
<svg style="position:absolute;left:134px;top:240px" width="18" height="14"><use href="#i-surf"/></svg>
<span id="a9" class="tl" style="left:155.5px;top:240px;letter-spacing:0.217px">UL0101.04 | a<span class="sb">s,dim,2,+z (bottom)</span> / a<span class="sb">s,prov,2,+z (bottom)</span></span>
<svg style="position:absolute;left:116px;top:258px" width="13" height="13"><circle cx="6.5" cy="6.5" r="5.85" fill="#fff" stroke="#2f2f2f" stroke-width="1.15"/></svg>
<svg style="position:absolute;left:134px;top:258px" width="18" height="14"><use href="#i-surf"/></svg>
<span id="a10" class="tl" style="left:155.5px;top:258px;letter-spacing:0.223px">UL0102.01 | |n<span class="sb">s,strut,-z (top)</span> / n<span class="sb">s,strut</span>|</span>
<svg style="position:absolute;left:116px;top:276px" width="13" height="13"><circle cx="6.5" cy="6.5" r="5.85" fill="#fff" stroke="#2f2f2f" stroke-width="1.15"/></svg>
<svg style="position:absolute;left:134px;top:276px" width="18" height="14"><use href="#i-surf"/></svg>
<span id="a11" class="tl" style="left:155.5px;top:276px;letter-spacing:0.251px">UL0102.02 | |n<span class="sb">s,strut,+z (bottom)</span> / n<span class="sb">s,strut</span>|</span>
<svg style="position:absolute;left:100.5px;top:292px" width="10" height="18"><path d="M2.1,5.9 L5.6,9.4 L2.1,12.9" fill="none" stroke="#a2a2a2" stroke-width="1.7"/></svg>
<svg style="position:absolute;left:116px;top:294px" width="13" height="13"><circle cx="6.5" cy="6.5" r="5.85" fill="#fff" stroke="#2f2f2f" stroke-width="1.15"/></svg>
<svg style="position:absolute;left:134px;top:294px" width="18" height="14"><use href="#i-surf"/></svg>
<span id="a12" class="tl" style="left:155.5px;top:294px;letter-spacing:0.097px">UL0203.02 | <span class="sm">v</span><span class="sb">Ed</span> / <span class="sm">v</span><span class="sb">Rd</span></span>
<div style="position:absolute;left:88.3px;top:309.5px;width:160.3px;height:18.0px;background:#ffff40"></div>
<svg style="position:absolute;left:60px;top:310px" width="10" height="18"><path d="M0.9,7.2 L4.6,10.9 L8.3,7.2" fill="none" stroke="#2b2b2b" stroke-width="1.7"/></svg>
<div style="position:absolute;left:76px;top:312px;width:10.6px;height:10.6px;border:1.2px solid #0a5296;background:#cce4f7"></div>
<svg style="position:absolute;left:94px;top:312px" width="18" height="14"><use href="#i-surfg"/></svg>
<span id="a13" class="tl" style="left:115.5px;top:312px;letter-spacing:0.320px">Serviceability Limit State</span>
<svg style="position:absolute;left:80px;top:328px" width="10" height="18"><path d="M0.9,7.2 L4.6,10.9 L8.3,7.2" fill="none" stroke="#2b2b2b" stroke-width="1.7"/></svg>
<div style="position:absolute;left:96px;top:330px;width:10.6px;height:10.6px;border:1.2px solid #0a5296;background:#cce4f7"></div>
<svg style="position:absolute;left:114px;top:330px" width="18" height="14"><use href="#i-surf"/></svg>
<span id="a14" class="tl" style="left:135.5px;top:330px;letter-spacing:0.292px">Serviceability</span>
<svg style="position:absolute;left:100.5px;top:346px" width="10" height="18"><path d="M2.1,5.9 L5.6,9.4 L2.1,12.9" fill="none" stroke="#a2a2a2" stroke-width="1.7"/></svg>
<svg style="position:absolute;left:116px;top:348px" width="13" height="13"><circle cx="6.5" cy="6.5" r="5.85" fill="#fff" stroke="#2f2f2f" stroke-width="1.15"/></svg>
<svg style="position:absolute;left:134px;top:348px" width="18" height="14"><use href="#i-surf"/></svg>
<span id="a15" class="tl" style="left:155.5px;top:348px;letter-spacing:0.104px">SE0202 | σ<span class="sb">s,max</span> / σ<span class="sb">s,lim,k3</span></span>
<svg style="position:absolute;left:100.5px;top:364px" width="10" height="18"><path d="M2.1,5.9 L5.6,9.4 L2.1,12.9" fill="none" stroke="#a2a2a2" stroke-width="1.7"/></svg>
<svg style="position:absolute;left:116px;top:366px" width="13" height="13"><circle cx="6.5" cy="6.5" r="5.85" fill="#fff" stroke="#2f2f2f" stroke-width="1.15"/></svg>
<svg style="position:absolute;left:134px;top:366px" width="18" height="14"><use href="#i-surf"/></svg>
<span id="a16" class="tl" style="left:155.5px;top:366px;letter-spacing:0.198px">SE0304 | w<span class="sb">k</span> / w<span class="sb">k,lim</span></span>
<svg style="position:absolute;left:100.5px;top:382px" width="10" height="18"><path d="M2.1,5.9 L5.6,9.4 L2.1,12.9" fill="none" stroke="#a2a2a2" stroke-width="1.7"/></svg>
<svg style="position:absolute;left:116px;top:384px" width="13" height="13"><circle cx="6.5" cy="6.5" r="5.85" fill="#fff" stroke="#2f2f2f" stroke-width="1.15"/></svg>
<svg style="position:absolute;left:134px;top:384px" width="18" height="14"><use href="#i-surf"/></svg>
<span id="a17" class="tl" style="left:155.5px;top:384px;letter-spacing:0.160px">SE0305 | d<span class="sb">s</span> / d<span class="sb">s,lim</span></span>
<svg style="position:absolute;left:100.5px;top:400px" width="10" height="18"><path d="M2.1,5.9 L5.6,9.4 L2.1,12.9" fill="none" stroke="#a2a2a2" stroke-width="1.7"/></svg>
<svg style="position:absolute;left:116px;top:402px" width="13" height="13"><circle cx="6.5" cy="6.5" r="5.85" fill="#fff" stroke="#2f2f2f" stroke-width="1.15"/></svg>
<svg style="position:absolute;left:134px;top:402px" width="18" height="14"><use href="#i-surf"/></svg>
<span id="a18" class="tl" style="left:155.5px;top:402px;letter-spacing:0.061px">SE0306 | s<span class="sb">l</span> / s<span class="sb">l,lim</span></span>
<svg style="position:absolute;left:100.5px;top:418px" width="10" height="18"><path d="M2.1,5.9 L5.6,9.4 L2.1,12.9" fill="none" stroke="#a2a2a2" stroke-width="1.7"/></svg>
<svg style="position:absolute;left:116px;top:420px" width="13" height="13"><circle cx="6.5" cy="6.5" r="5.85" fill="#fff" stroke="#2f2f2f" stroke-width="1.15"/></svg>
<svg style="position:absolute;left:134px;top:420px" width="18" height="14"><use href="#i-surf"/></svg>
<span id="a19" class="tl" style="left:155.5px;top:420px;letter-spacing:0.080px">SE0307 | a<span class="sb">s,min</span> / a<span class="sb">s</span></span>
<svg style="position:absolute;left:100.5px;top:436px" width="10" height="18"><path d="M2.1,5.9 L5.6,9.4 L2.1,12.9" fill="none" stroke="#a2a2a2" stroke-width="1.7"/></svg>
<svg style="position:absolute;left:116px;top:438px" width="13" height="13"><circle cx="6.5" cy="6.5" r="5.85" fill="#fff" stroke="#2f2f2f" stroke-width="1.15"/></svg>
<svg style="position:absolute;left:134px;top:438px" width="18" height="14"><use href="#i-surf"/></svg>
<span id="a20" class="tl" style="left:155.5px;top:438px;letter-spacing:0.238px">SE0400 | |u / u<span class="sb">lim</span>|</span>
<div style="position:absolute;left:90px;top:452.2px;width:80.7px;height:19.5px;background:#ffff40"></div>
<svg style="position:absolute;left:60px;top:454px" width="10" height="18"><path d="M0.9,7.2 L4.6,10.9 L8.3,7.2" fill="none" stroke="#2b2b2b" stroke-width="1.7"/></svg>
<div style="position:absolute;left:76px;top:456px;width:10.6px;height:10.6px;border:1.2px solid #0a5296;background:#cce4f7"></div>
<svg style="position:absolute;left:94px;top:456px" width="18" height="14"><use href="#i-surfg"/></svg>
<span id="a21" class="tl" style="left:115.5px;top:456px;letter-spacing:0.562px">Detailing</span>
<svg style="position:absolute;left:80.5px;top:472px" width="10" height="18"><path d="M2.1,5.9 L5.6,9.4 L2.1,12.9" fill="none" stroke="#a2a2a2" stroke-width="1.7"/></svg>
<div style="position:absolute;left:96px;top:474px;width:10.6px;height:10.6px;border:1.2px solid #0a5296;background:#cce4f7"></div>
<svg style="position:absolute;left:114px;top:474px" width="18" height="14"><use href="#i-surf"/></svg>
<span id="a22" class="tl" style="left:135.5px;top:474px;letter-spacing:0.499px">Detailing of Members and Particular Rules</span>
<svg style="position:absolute;left:80.5px;top:490px" width="10" height="18"><path d="M2.1,5.9 L5.6,9.4 L2.1,12.9" fill="none" stroke="#a2a2a2" stroke-width="1.7"/></svg>
<div style="position:absolute;left:96px;top:492px;width:10.6px;height:10.6px;border:1.2px solid #0a5296;background:#cce4f7"></div>
<svg style="position:absolute;left:114px;top:492px" width="18" height="14"><use href="#i-surf"/></svg>
<span id="a23" class="tl" style="left:135.5px;top:492px;letter-spacing:0.542px">Durability and Cover to Reinforcement</span>
<svg style="position:absolute;left:40.5px;top:508px" width="10" height="18"><path d="M2.1,5.9 L5.6,9.4 L2.1,12.9" fill="none" stroke="#a2a2a2" stroke-width="1.7"/></svg>
<div style="position:absolute;left:56px;top:510px;width:11px;height:11px;border:1px solid #2b2b2b;background:#fff"></div>
<svg style="position:absolute;left:74px;top:510px" width="18" height="14"><use href="#i-frame"/></svg>
<span id="a24" class="tl" style="left:95.5px;top:510px;letter-spacing:0.538px">On Nodes</span>
<svg style="position:absolute;left:20.5px;top:526px" width="10" height="18"><path d="M2.1,5.9 L5.6,9.4 L2.1,12.9" fill="none" stroke="#a2a2a2" stroke-width="1.7"/></svg>
<div style="position:absolute;left:36px;top:528px;width:11px;height:11px;border:1px solid #2b2b2b;background:#fff"></div>
<svg style="position:absolute;left:54px;top:528px" width="18" height="14"><use href="#i-frame"/></svg>
<span id="a25" class="tl" style="left:75.5px;top:528px;letter-spacing:0.486px">Reinforcement</span>
<svg style="position:absolute;left:20.5px;top:544px" width="10" height="18"><path d="M2.1,5.9 L5.6,9.4 L2.1,12.9" fill="none" stroke="#a2a2a2" stroke-width="1.7"/></svg>
<div style="position:absolute;left:36px;top:546px;width:11px;height:11px;border:1px solid #2b2b2b;background:#fff"></div>
<svg style="position:absolute;left:54px;top:546px" width="18" height="14"><use href="#i-surf"/></svg>
<span id="a26" class="tl" style="left:75.5px;top:546px;letter-spacing:0.303px">Values on Surfaces</span>
<div style="position:absolute;left:15px;top:562px;width:387px;height:5px;background:#f5f5f5"></div>
<div style="position:absolute;left:51px;top:567px;width:351px;height:18px;background:#cce8ff"></div>
<svg style="position:absolute;left:20.5px;top:567px" width="10" height="18"><path d="M2.1,5.9 L5.6,9.4 L2.1,12.9" fill="none" stroke="#a2a2a2" stroke-width="1.7"/></svg>
<svg style="position:absolute;left:36px;top:569px" width="13" height="13"><rect x="0.5" y="0.5" width="12" height="12" fill="#fff" stroke="#2b2b2b"/><path d="M2.5,6.3 L5.5,9.7 L10.9,3.1" fill="none" stroke="#2b2b2b" stroke-width="1.3"/></svg>
<svg style="position:absolute;left:54px;top:567.3px" width="18" height="18"><use href="#i-wedge"/></svg><div class="xx" style="left:55px;top:565.5px">x.xx</div>
<span id="b0" class="tl" style="left:75.5px;top:569px;letter-spacing:0.258px">Result Values</span>
<svg style="position:absolute;left:36px;top:587px" width="13" height="13"><rect x="0.5" y="0.5" width="12" height="12" fill="#fff" stroke="#2b2b2b"/><path d="M2.5,6.3 L5.5,9.7 L10.9,3.1" fill="none" stroke="#2b2b2b" stroke-width="1.3"/></svg>
<svg style="position:absolute;left:54px;top:585px" width="18" height="18"><use href="#i-wedge"/></svg><svg style="position:absolute;left:60.5px;top:586.2px" width="9.4" height="6.6"><use href="#i-eye"/></svg>
<span id="b1" class="tl" style="left:75.5px;top:587px;letter-spacing:0.647px">Title Information</span>
<svg style="position:absolute;left:36px;top:605px" width="13" height="13"><rect x="0.5" y="0.5" width="12" height="12" fill="#fff" stroke="#2b2b2b"/><path d="M2.5,6.3 L5.5,9.7 L10.9,3.1" fill="none" stroke="#2b2b2b" stroke-width="1.3"/></svg>
<svg style="position:absolute;left:54px;top:603px" width="18" height="18"><use href="#i-wedge"/></svg><svg style="position:absolute;left:60.5px;top:604.2px" width="9.4" height="6.6"><use href="#i-eye"/></svg>
<span id="b2" class="tl" style="left:75.5px;top:605px;letter-spacing:0.730px">Max/Min Information</span>
<svg style="position:absolute;left:20.5px;top:621px" width="10" height="18"><path d="M2.1,5.9 L5.6,9.4 L2.1,12.9" fill="none" stroke="#a2a2a2" stroke-width="1.7"/></svg>
<svg style="position:absolute;left:36px;top:623px" width="13" height="13"><rect x="0.5" y="0.5" width="12" height="12" fill="#fff" stroke="#2b2b2b"/><path d="M2.5,6.3 L5.5,9.7 L10.9,3.1" fill="none" stroke="#2b2b2b" stroke-width="1.3"/></svg>
<svg style="position:absolute;left:54px;top:621px" width="18" height="18"><line x1="0.5" y1="16.2" x2="16.5" y2="16.2" stroke="#8a8a8a" stroke-width="1"/><path d="M4.3,4 V12" stroke="#18c040" stroke-width="1.8"/><polygon points="1.4,10.2 7.2,10.2 4.3,15" fill="#18c040"/><rect x="3.5" y="15.4" width="1.6" height="1.6" fill="#e00000"/></svg><svg style="position:absolute;left:60.5px;top:622.2px" width="9.4" height="6.6"><use href="#i-eye"/></svg>
<span id="b3" class="tl" style="left:75.5px;top:623px;letter-spacing:0.411px">Nodes</span>
<svg style="position:absolute;left:20.5px;top:639px" width="10" height="18"><path d="M2.1,5.9 L5.6,9.4 L2.1,12.9" fill="none" stroke="#a2a2a2" stroke-width="1.7"/></svg>
<div style="position:absolute;left:36px;top:641px;width:10.6px;height:10.6px;border:1.2px solid #0a5296;background:#cce4f7"></div>
<svg style="position:absolute;left:54px;top:639px" width="18" height="18"><use href="#i-wedge"/></svg><svg style="position:absolute;left:60.5px;top:640.2px" width="9.4" height="6.6"><use href="#i-eye"/></svg>
<span id="b4" class="tl" style="left:75.5px;top:641px;letter-spacing:0.413px">Members</span>
<svg style="position:absolute;left:20.5px;top:657px" width="10" height="18"><path d="M2.1,5.9 L5.6,9.4 L2.1,12.9" fill="none" stroke="#a2a2a2" stroke-width="1.7"/></svg>
<div style="position:absolute;left:36px;top:659px;width:10.6px;height:10.6px;border:1.2px solid #0a5296;background:#cce4f7"></div>
<svg style="position:absolute;left:54px;top:657px" width="18" height="18"><use href="#i-wedge"/></svg><svg style="position:absolute;left:60.5px;top:658.2px" width="9.4" height="6.6"><use href="#i-eye"/></svg>
<span id="b5" class="tl" style="left:75.5px;top:659px;letter-spacing:0.303px">Values on Surfaces</span>
<svg style="position:absolute;left:20.5px;top:675px" width="10" height="18"><path d="M2.1,5.9 L5.6,9.4 L2.1,12.9" fill="none" stroke="#a2a2a2" stroke-width="1.7"/></svg>
<div style="position:absolute;left:36px;top:677px;width:10.6px;height:10.6px;border:1.2px solid #0a5296;background:#cce4f7"></div>
<svg style="position:absolute;left:54px;top:676px" width="16" height="16"><rect width="16" height="16" fill="url(#grb)"/></svg>
<span id="b6" class="tl" style="left:75.5px;top:677px;letter-spacing:0.412px">Type of display</span>
<svg style="position:absolute;left:20.5px;top:693px" width="10" height="18"><path d="M2.1,5.9 L5.6,9.4 L2.1,12.9" fill="none" stroke="#a2a2a2" stroke-width="1.7"/></svg>
<div style="position:absolute;left:36px;top:695px;width:10.6px;height:10.6px;border:1.2px solid #0a5296;background:#cce4f7"></div>
<svg style="position:absolute;left:54px;top:693px" width="18" height="18"><use href="#i-wedge"/></svg><svg style="position:absolute;left:60.5px;top:694.2px" width="9.4" height="6.6"><use href="#i-eye"/></svg>
<span id="b7" class="tl" style="left:75.5px;top:695px;letter-spacing:0.326px">Result Sections</span>
<svg style="position:absolute;left:20.5px;top:711px" width="10" height="18"><path d="M2.1,5.9 L5.6,9.4 L2.1,12.9" fill="none" stroke="#a2a2a2" stroke-width="1.7"/></svg>
<svg style="position:absolute;left:36px;top:713px" width="13" height="13"><rect x="0.5" y="0.5" width="12" height="12" fill="#fff" stroke="#2b2b2b"/><path d="M2.5,6.3 L5.5,9.7 L10.9,3.1" fill="none" stroke="#2b2b2b" stroke-width="1.3"/></svg>
<svg style="position:absolute;left:54px;top:711px" width="18" height="18"><use href="#i-wedge"/></svg><svg style="position:absolute;left:60.5px;top:712.2px" width="9.4" height="6.6"><use href="#i-eye"/></svg>
<span id="b8" class="tl" style="left:75.5px;top:713px;letter-spacing:0.549px">Reinforcement Direction</span>
<div style="position:absolute;left:15px;top:757px;width:387px;height:25.4px;background:#f5f5f5"></div>
<div style="position:absolute;left:15px;top:757px;width:387px;height:1.6px;background:#c6c6d4"></div>
<div style="position:absolute;left:14.6px;top:757.5px;width:36px;height:22px;background:#ebebeb;border:1.2px solid #c6c6d4;border-top:none"></div>
<div style="position:absolute;left:53.2px;top:757.5px;width:36px;height:22px;background:#ebebeb;border:1.2px solid #c6c6d4;border-top:none"></div>
<div style="position:absolute;left:91.2px;top:757.5px;width:36px;height:22px;background:#ebebeb;border:1.2px solid #c6c6d4;border-top:none"></div>
<div style="position:absolute;left:128.6px;top:757px;width:36.6px;height:25.4px;background:#fff;border:1.4px solid #c6c6d4;border-top:none"></div>
<svg style="position:absolute;left:24px;top:759px" width="20" height="20"><rect x="4.5" y="2" width="13" height="11.5" fill="#fff" stroke="#6a8fd0" stroke-width="0.8"/><rect x="4.5" y="2" width="13" height="2.6" fill="#3c6fd0"/><path d="M1.5,6 h5 l1.5,1.6 h6 v6.2 h-12.5z" fill="#f0c020" stroke="#c09010" stroke-width="0.6"/><polygon points="7,13.5 11,10 16.5,12.5 12,16.8" fill="#5aa0e8" stroke="#2c5fa8" stroke-width="0.5"/><circle cx="7" cy="13.5" r="1" fill="#e00000"/><circle cx="16.5" cy="12.5" r="1" fill="#e00000"/><circle cx="12" cy="17" r="1" fill="#e00000"/></svg>
<svg style="position:absolute;left:64px;top:763px" width="15" height="11"><path d="M0.6,5.5 Q7.3,-2.6 14,5.5 Q7.3,13.4 0.6,5.5Z" fill="#fff" stroke="#28287c" stroke-width="1.2"/><circle cx="7.3" cy="5.4" r="3.3" fill="#3a5ad0"/><circle cx="7.3" cy="5.4" r="1.6" fill="#101050"/></svg>
<svg style="position:absolute;left:101px;top:763px" width="17" height="12"><rect x="1" y="1.6" width="9.4" height="8.8" rx="1.6" fill="#595959"/><polygon points="10.6,5.4 15.4,2.2 15.4,9.8 10.6,6.6" fill="#595959"/></svg>
<svg style="position:absolute;left:139px;top:765px" width="18" height="10"><polygon points="0.8,5.6 0.8,9.2 8.6,5.6" fill="#2040c0"/><polygon points="9.4,4.8 16.6,1.6 16.6,4.8" fill="#e02010"/><line x1="0.8" y1="5.6" x2="16.6" y2="4.4" stroke="#111" stroke-width="1.1"/></svg>
<div style="position:absolute;left:15px;top:780.7px;width:113.6px;height:2px;background:#fbfbfb"></div>
<svg style="position:absolute;left:160px;top:50px" width="70" height="90"><defs><filter id="ab" x="-20%" y="-20%" width="150%" height="150%"><feGaussianBlur stdDeviation="1.3"/></filter></defs><g transform="translate(4.5,3)" filter="url(#ab)" opacity="0.6"><line x1="50.9" y1="12" x2="25.3" y2="60.4" stroke="#444" stroke-width="3.4" stroke-linecap="round"/><polygon points="16,78.8 16.4,57.5 33.5,66" fill="#444"/></g><line x1="50.9" y1="12" x2="25.3" y2="60.4" stroke="#0000ff" stroke-width="3.4" stroke-linecap="round"/><polygon points="16,78.8 16.4,57.5 33.5,66" fill="#0000ff"/></svg>
<div style="position:absolute;left:705px;top:298px;width:339px;height:464px;box-shadow:0 3px 8px rgba(0,0,0,0.09)"></div>
<div style="position:absolute;left:1044px;top:300px;width:2px;height:466px;background:linear-gradient(to right,#e2e2e2,#f0f0f0)"></div>
<div style="position:absolute;left:705px;top:298px;width:339px;height:464px;background:#fff"></div>
<div style="position:absolute;left:705px;top:298px;width:339px;height:1px;background:#8a8a8a"></div>
<div style="position:absolute;left:705px;top:299px;width:1px;height:31px;background:#d8d8d8"></div>
<span id="t-cp" class="tt" style="left:713.2px;top:306px;letter-spacing:0.082px">Control Panel</span>
<div style="position:absolute;left:1024px;top:306px;width:19px;height:19px;background:#c75050"></div>
<div class="xb" style="left:1024px;top:306px">x</div>
<div style="position:absolute;left:705px;top:329px;width:337.6px;height:407px;border:1.2px solid #c6c6d4;background:#fff"></div>
<span id="t-sub" class="tl" style="left:716.4px;top:332.6px;letter-spacing:0.363px">Concrete Design | Design Checks by Surfaces</span>
<div style="position:absolute;left:706.2px;top:370px;width:336.6px;height:333px;background:#f5f5f5"></div>
<div style="position:absolute;left:705px;top:738.2px;width:339px;height:23.6px;background:#f6f6f6"></div>
<div style="position:absolute;left:840.2px;top:389.4px;width:40.8px;height:24px;background:#b90000"></div>
<div style="position:absolute;left:840.2px;top:413.4px;width:40.8px;height:2px;background:#fbfbfb"></div>
<div style="position:absolute;left:840.2px;top:415.4px;width:40.8px;height:24px;background:#dc8200"></div>
<div style="position:absolute;left:840.2px;top:439.4px;width:40.8px;height:2px;background:#fbfbfb"></div>
<div style="position:absolute;left:840.2px;top:441.4px;width:40.8px;height:24px;background:#ffa500"></div>
<div style="position:absolute;left:840.2px;top:465.4px;width:40.8px;height:2px;background:#fbfbfb"></div>
<div style="position:absolute;left:840.2px;top:467.4px;width:40.8px;height:24px;background:#cdc800"></div>
<div style="position:absolute;left:840.2px;top:491.4px;width:40.8px;height:2px;background:#fbfbfb"></div>
<div style="position:absolute;left:840.2px;top:493.4px;width:40.8px;height:24px;background:#ffff00"></div>
<div style="position:absolute;left:840.2px;top:517.4px;width:40.8px;height:2px;background:#fbfbfb"></div>
<div style="position:absolute;left:840.2px;top:519.4px;width:40.8px;height:24px;background:#00f000"></div>
<div style="position:absolute;left:840.2px;top:543.4px;width:40.8px;height:2px;background:#fbfbfb"></div>
<div style="position:absolute;left:840.2px;top:545.4px;width:40.8px;height:24px;background:#00e080"></div>
<div style="position:absolute;left:840.2px;top:569.4px;width:40.8px;height:2px;background:#fbfbfb"></div>
<div style="position:absolute;left:840.2px;top:571.4px;width:40.8px;height:24px;background:#00f0f0"></div>
<div style="position:absolute;left:840.2px;top:595.4px;width:40.8px;height:2px;background:#fbfbfb"></div>
<div style="position:absolute;left:840.2px;top:597.4px;width:40.8px;height:24px;background:#009bff"></div>
<div style="position:absolute;left:840.2px;top:621.4px;width:40.8px;height:2px;background:#fbfbfb"></div>
<div style="position:absolute;left:840.2px;top:623.4px;width:40.8px;height:24px;background:#0000ff"></div>
<div style="position:absolute;left:840.2px;top:647.4px;width:40.8px;height:2px;background:#fbfbfb"></div>
<div style="position:absolute;left:840.2px;top:649.4px;width:40.8px;height:24px;background:#0000a0"></div>
<span class="lg" style="left:780px;width:47.2px;top:381.9px;text-align:right">1.100</span>
<span class="lg" style="left:780px;width:47.2px;top:407.9px;text-align:right">1.000</span>
<span class="lg" style="left:780px;width:47.2px;top:433.9px;text-align:right">0.900</span>
<span class="lg" style="left:780px;width:47.2px;top:459.9px;text-align:right">0.800</span>
<span class="lg" style="left:780px;width:47.2px;top:485.9px;text-align:right">0.700</span>
<span class="lg" style="left:780px;width:47.2px;top:511.9px;text-align:right">0.600</span>
<span class="lg" style="left:780px;width:47.2px;top:537.9px;text-align:right">0.500</span>
<span class="lg" style="left:780px;width:47.2px;top:563.9px;text-align:right">0.400</span>
<span class="lg" style="left:780px;width:47.2px;top:589.9px;text-align:right">0.300</span>
<span class="lg" style="left:780px;width:47.2px;top:615.9px;text-align:right">0.200</span>
<span class="lg" style="left:780px;width:47.2px;top:641.9px;text-align:right">0.100</span>
<span class="lg" style="left:780px;width:47.2px;top:667.9px;text-align:right">0.000</span>
<span class="lg" style="left:880px;width:52.2px;top:394.6px;text-align:right">0.00 %</span>
<span class="lg" style="left:880px;width:52.2px;top:420.6px;text-align:right">0.43 %</span>
<span class="lg" style="left:880px;width:52.2px;top:446.6px;text-align:right">2.37 %</span>
<span class="lg" style="left:880px;width:52.2px;top:472.6px;text-align:right">4.72 %</span>
<span class="lg" style="left:880px;width:52.2px;top:498.6px;text-align:right">5.79 %</span>
<span class="lg" style="left:880px;width:52.2px;top:524.6px;text-align:right">6.31 %</span>
<span class="lg" style="left:880px;width:52.2px;top:550.6px;text-align:right">9.40 %</span>
<span class="lg" style="left:880px;width:52.2px;top:576.6px;text-align:right">10.39 %</span>
<span class="lg" style="left:880px;width:52.2px;top:602.6px;text-align:right">11.62 %</span>
<span class="lg" style="left:880px;width:52.2px;top:628.6px;text-align:right">14.71 %</span>
<span class="lg" style="left:880px;width:52.2px;top:654.6px;text-align:right">34.24 %</span>
<div style="position:absolute;left:947.6px;top:390px;width:3.2px;height:283px;background:#e0e0e0"></div>
<div style="position:absolute;left:939px;top:382px;width:21px;height:10px;background:#0078d7"></div>
<div style="position:absolute;left:939px;top:669px;width:21px;height:10px;background:#0078d7"></div>
<div style="position:absolute;left:981px;top:709px;width:24.6px;height:20.8px;background:#cce4f7"></div>
<div style="position:absolute;left:1012px;top:709px;width:22.6px;height:18.6px;background:#cce4f7;border:1.2px solid #0a5296"></div>
<svg style="position:absolute;left:983px;top:710px" width="22" height="20"><rect x="2.6" y="7" width="9.6" height="9.4" fill="#f0f0f0" stroke="#555" stroke-width="1"/><rect x="2.6" y="6" width="9.6" height="2" fill="#555"/><path d="M6,5.5 q2,-3.5 6,-3 l3.5,1.2 l0.6,3.6 q-2,2.4 -5,1.2 q-3,-1 -5.100,-3z" fill="#e6c9a8" stroke="#b09070" stroke-width="0.5"/><rect x="14.6" y="2" width="3.2" height="5.6" fill="#5a86d8" transform="rotate(-12 16 5)"/></svg>
<svg style="position:absolute;left:1014px;top:710px" width="22" height="20"><defs><linearGradient id="gsl" x1="0" y1="0" x2="0" y2="1"><stop offset="0" stop-color="#00e8f0"/><stop offset="0.5" stop-color="#10e030"/><stop offset="1" stop-color="#f0f000"/></linearGradient></defs><rect x="2.2" y="1" width="6.7" height="15.8" fill="#dcdcdc"/><rect x="3.6" y="1" width="3.9" height="15.8" fill="#c8c8c8"/><rect x="10.5" y="1" width="7.4" height="15.8" fill="#dcdcdc"/><rect x="12.3" y="1" width="3.900" height="15.800" fill="#c8c8c8"/><rect x="3.8" y="1" width="3.4" height="2.600" fill="#0000a8"/><rect x="3.8" y="3.500" width="3.400" height="1" fill="#00a0ff"/><rect x="2.800" y="4.100" width="5.400" height="0.900" fill="#0078d7"/><rect x="2.800" y="12" width="5.400" height="0.900" fill="#0078d7"/><rect x="3.800" y="12.900" width="3.400" height="2" fill="#ffa800"/><rect x="3.800" y="14.800" width="3.400" height="2" fill="#c80000"/><rect x="11.400" y="4.100" width="5.400" height="0.900" fill="#0078d7"/><rect x="12.600" y="5" width="3.400" height="7" fill="url(#gsl)"/><rect x="11.400" y="12" width="5.400" height="0.900" fill="#0078d7"/></svg>
<div style="position:absolute;left:705.2px;top:736px;width:37.8px;height:25px;background:#fff;border:1.2px solid #c6c6d4;border-top:none"></div>
<div style="position:absolute;left:744.2px;top:736.4px;width:36.2px;height:22px;background:#ebebeb;border:1.2px solid #c6c6d4"></div>
<div style="position:absolute;left:782.4px;top:736.4px;width:38px;height:22px;background:#ebebeb;border:1.2px solid #c6c6d4"></div>
<svg style="position:absolute;left:716px;top:741px" width="18" height="16"><rect x="0.8" y="1.00" width="2.9" height="1.7" fill="#b00000"/><rect x="4.9" y="1.50" width="1.9" height="0.8" fill="#333"/><rect x="0.8" y="4.05" width="2.9" height="1.7" fill="#ff9800"/><rect x="4.9" y="4.55" width="1.9" height="0.8" fill="#333"/><rect x="0.8" y="7.10" width="2.9" height="1.7" fill="#18e018"/><rect x="4.9" y="7.60" width="1.9" height="0.8" fill="#333"/><rect x="0.8" y="10.15" width="2.9" height="1.7" fill="#1898ff"/><rect x="4.9" y="10.65" width="1.9" height="0.8" fill="#333"/><rect x="0.8" y="13.20" width="2.9" height="1.7" fill="#0000a0"/><rect x="4.9" y="13.70" width="1.9" height="0.8" fill="#333"/><defs><linearGradient id="gti" x1="0" y1="0" x2="1" y2="0.7"><stop offset="0" stop-color="#10a8ff"/><stop offset="0.3" stop-color="#20e8c0"/><stop offset="0.55" stop-color="#60e830"/><stop offset="0.8" stop-color="#f0e000"/><stop offset="1" stop-color="#ff5000"/></linearGradient></defs><polygon points="6.9,8 9.500,4.800 16,5.500 15.600,9.600 13.400,11.600 10,9.600" fill="url(#gti)"/></svg>
<svg style="position:absolute;left:753px;top:740px" width="18" height="17"><g fill="none" stroke="#6a6a6a" stroke-width="1.1"><path d="M9.200,1.600 V4.600 M4,4.300 H14.400"/><path d="M5.200,4.400 L2,12 M5.200,4.400 L8.400,12 M13.200,4.400 L10,12 M13.200,4.400 L16.400,12"/></g><path d="M1.400,11.600 h7.600 a3.800,3 0 0 1 -7.600,0z M9.400,11.600 h7.600 a3.800,3 0 0 1 -7.600,0z" fill="#7a7a7a"/><circle cx="9.200" cy="2" r="1" fill="#6a6a6a"/></svg>
<svg style="position:absolute;left:791px;top:739px" width="20" height="19"><rect x="2.400" y="8.300" width="5.400" height="8.400" fill="#fff" stroke="#777" stroke-width="0.9"/><path d="M3.600,10.400 h3 M3.600,12.500 h3 M3.600,14.600 h3" stroke="#777" stroke-width="0.8"/><line x1="8.200" y1="2.600" x2="14.400" y2="15.400" stroke="#a8c0e8" stroke-width="2"/><circle cx="8" cy="2.500" r="1.500" fill="#e00000"/><circle cx="14.500" cy="15.500" r="1.500" fill="#e00000"/><path d="M9.800,2.200 l6.600,3.200 l-2.800,0.800 l1.600,3 l-1.300,0.700 l-1.600,-3 l-2,2z" fill="#fff" stroke="#333" stroke-width="0.7"/></svg>
</body></html>
